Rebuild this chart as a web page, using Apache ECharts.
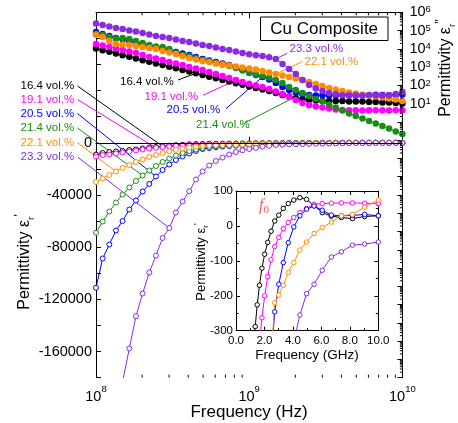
<!DOCTYPE html>
<html><head><meta charset="utf-8">
<script src="https://cdn.jsdelivr.net/npm/echarts@6/dist/echarts.min.js"></script>
<style>html,body{margin:0;padding:0;background:#fff;}#c{width:458px;height:423px;}</style>
</head><body><div id="c"></div>
<script>
// ---------------- DATA ----------------
const freqHz = [1.000e8, 1.105e8, 1.222e8, 1.350e8, 1.492e8, 1.650e8, 1.823e8, 2.015e8, 2.228e8, 2.462e8, 2.721e8, 3.008e8, 3.324e8, 3.674e8, 4.061e8, 4.489e8, 4.962e8, 5.484e8, 6.061e8, 6.699e8, 7.405e8, 8.184e8, 9.046e8,
  1.000e9, 1.105e9, 1.222e9, 1.350e9, 1.492e9, 1.650e9, 1.823e9, 2.015e9, 2.228e9, 2.462e9, 2.721e9, 3.008e9, 3.324e9, 3.674e9, 4.061e9, 4.489e9, 4.962e9, 5.484e9, 6.061e9, 6.699e9, 7.405e9, 8.184e9, 9.046e9, 1.000e10];
const volLabels = ['16.4 vol.%', '19.1 vol.%', '20.5 vol.%', '21.4 vol.%', '22.1 vol.%', '23.3 vol.%'];

// real permittivity (left axis, open circles)
const epsReal164 = [-8970, -7820, -7050, -6670, -6280, -5520, -5130, -4370, -3600, -3220, -2680, -2220, -1840, -1460, -1150, -950, -830, -740, -680, -630, -590, -550, -510, -470, -420, -360, -288, -226, -170, -121, -81, -47, -15, 14, 31, 50, 64, 74, 81, 76, 58, 38, 28, 24, 21, 27, 29];
const epsReal191 = [-10500, -9350, -8970, -8200, -7430, -6670, -5900, -5130, -4370, -3830, -3300, -2840, -2380, -1990, -1750, -1550, -1380, -1240, -1120, -1020, -930, -850, -780, -710, -640, -570, -500, -420, -335, -263, -200, -145, -97, -59, -33, -8, 10, 24, 38, 50, 62, 64, 65, 66, 66, 65, 64];
const epsReal205 = [-111100, -88660, -77930, -67200, -59920, -51110, -44220, -37320, -31570, -25820, -20840, -16630, -13180, -10500, -8200, -6280, -4750, -4000, -3400, -2900, -2500, -2200, -1950, -1750, -1550, -1380, -1220, -1080, -940, -800, -660, -530, -390, -246, -167, -105, -48, -3, 29, 48, 57, 45, 31, 29, 30, 33, 29];
const epsReal214 = [-68970, -60310, -52650, -45750, -39620, -34260, -29270, -25060, -21230, -17780, -14710, -12030, -9730, -7820, -6280, -5130, -3980, -3220, -2450, -1920, -1460, -1070, -770, -650, -550, -460, -380, -310, -250, -200, -150, -110, -75, -45, -20, 0, 15, 25, 30, 32, 33, 33, 33, 34, 33, 33, 34];
const epsReal221 = [-30040, -27360, -24670, -21990, -19310, -17010, -14710, -12800, -10880, -9350, -7820, -6510, -5360, -4370, -3600, -2990, -2450, -2100, -1850, -1700, -1600, -1520, -1450, -1380, -1300, -1220, -1130, -1030, -920, -800, -670, -530, -380, -220, -198, -170, -134, -105, -69, -46, -22, -5, 11, 29, 33, 54, 74];
const epsReal233 = [-335000, -290000, -250000, -215000, -183000, -157600, -132900, -115500, -99400, -86400, -72950, -65300, -53400, -45000, -37090, -28120, -22000, -17400, -13950, -11260, -8970, -7050, -5750, -4750, -3830, -2990, -2300, -1700, -1450, -1250, -1080, -930, -800, -690, -590, -500, -410, -330, -255, -194, -167, -127, -89, -74, -55, -52, -46];

// imaginary permittivity (right log axis, filled circles)
const epsImag164 = [1.04e4, 8.4e3, 6.9e3, 5.6e3, 4.5e3, 3.7e3, 3.0e3, 2.4e3, 1.98e3, 1.6e3, 1.31e3, 1.05e3, 860, 695, 570, 460, 375, 300, 247, 200, 163, 132, 108, 87, 72, 59, 49, 38, 30, 25, 20, 18, 16, 15, 14, 14, 14, 14, 13, 13, 13, 12.3, 12.3, 11.6, 11.6, 10.9, 10.2];
const epsImag191 = [1.84e4, 1.52e4, 1.26e4, 1.04e4, 8.6e3, 7.1e3, 5.9e3, 4.6e3, 3.6e3, 2.96e3, 2.45e3, 1.9e3, 1.58e3, 1.31e3, 1.01e3, 840, 695, 540, 420, 326, 254, 197, 153, 124, 98, 81, 63, 46, 34, 23, 16, 10.9, 8.4, 7.0, 6.2, 5.4, 4.8, 4.5, 4.3, 4.4, 4.2, 4.3, 4.4, 4.3, 4.2, 4.3, 4.4];
const epsImag205 = [8.4e4, 6.5e4, 5.0e4, 3.9e4, 3.2e4, 2.7e4, 2.1e4, 1.73e4, 1.43e4, 1.18e4, 9.8e3, 8.1e3, 6.7e3, 5.6e3, 4.6e3, 3.6e3, 2.8e3, 2.3e3, 1.9e3, 1.58e3, 1.31e3, 950, 695, 510, 370, 290, 210, 135, 81, 56, 41, 34, 30, 28, 29, 28, 29, 30, 29, 28, 29, 30, 31, 30, 29, 30, 32];
const epsImag214 = [6.7e4, 5.7e4, 4.4e4, 3.7e4, 3.9e4, 3.5e4, 2.7e4, 2.1e4, 1.62e4, 1.34e4, 1.26e4, 9.8e3, 5.9e3, 4.6e3, 4.1e3, 3.2e3, 2.45e3, 2.03e3, 1.68e3, 1.39e3, 1.15e3, 890, 650, 476, 394, 326, 270, 197, 135, 81, 56, 38, 26, 18, 13, 9.0, 6.2, 4.2, 2.9, 2.1, 1.54, 1.12, 0.82, 0.60, 0.44, 0.30, 0.22];
const epsImag221 = [5.9e4, 4.4e4, 2.7e4, 1.84e4, 1.73e4, 1.62e4, 1.43e4, 1.26e4, 1.11e4, 9.8e3, 7.6e3, 6.3e3, 5.2e3, 4.1e3, 3.2e3, 2.6e3, 2.16e3, 1.9e3, 1.58e3, 1.39e3, 1.22e3, 1.08e3, 950, 840, 740, 610, 510, 420, 350, 290, 240, 197, 153, 119, 92, 72, 59, 49, 41, 36, 32, 28, 25, 22, 19, 17, 14];
const epsImag233 = [2.4e5, 2.0e5, 1.66e5, 1.38e5, 1.23e5, 1.0e5, 8.9e4, 7.4e4, 6.0e4, 5.0e4, 4.5e4, 3.9e4, 3.2e4, 2.7e4, 2.35e4, 1.95e4, 1.6e4, 1.45e4, 1.2e4, 9.8e3, 8.7e3, 7.1e3, 5.9e3, 5.0e3, 4.4e3, 4.1e3, 3.5e3, 2.8e3, 1.5e3, 790, 415, 195, 105, 68, 49, 38, 34, 29, 29, 29, 28, 29, 29, 28, 29, 34, 44];

// zero-crossing frequencies marked in the inset (GHz) : 16.4, 19.1, 20.5, 22.1 vol.%
const f0GHz = [2.62, 3.5, 4.12, 6.2];
const f0Owner = [0, 1, 2, 4];
const insetOwners = [0, 1, 2, 4, 5];

// tick labels
const epsRealTickLabels = [0, -40000, -80000, -120000, -160000];
const epsImagTickExps = [1, 2, 3, 4, 5, 6];
const freqTickExps = [8, 9, 10];
const insetFreqTicks = [0, 2, 4, 6, 8, 10];
const insetEpsTicks = [100, 0, -100, -200, -300];

// ---------------- STYLE / LAYOUT ----------------
const colors = ['#000000', '#ff00ff', '#0000ff', '#1a8c1a', '#ff8c00', '#8a2be2'];
const FONT = '"Liberation Sans", Arial, Helvetica, sans-serif';
const realArrays = [epsReal164, epsReal191, epsReal205, epsReal214, epsReal221, epsReal233];
const imagArrays = [epsImag164, epsImag191, epsImag205, epsImag214, epsImag221, epsImag233];

const supRichX = {
  b: { fontSize: 14.5, lineHeight: 20, verticalAlign: 'bottom', fontFamily: FONT, color: '#000' },
  s: { fontSize: 9.5, lineHeight: 13, verticalAlign: 'top', fontFamily: FONT, color: '#000' }
};
const supRichY = {
  b: { fontSize: 14.5, lineHeight: 15, verticalAlign: 'bottom', fontFamily: FONT, color: '#000' },
  s: { fontSize: 9.5, lineHeight: 9, verticalAlign: 'top', fontFamily: FONT, color: '#000' }
};

const series = [];
imagArrays.forEach((arr, k) => {
  series.push({
    type: 'line', xAxisIndex: 0, yAxisIndex: 1, z: 2,
    data: freqHz.map((f, i) => [f, arr[i]]),
    symbol: 'circle', symbolSize: 6.5, showAllSymbol: true,
    itemStyle: { color: colors[k] }, lineStyle: { color: colors[k], width: 1 },
    emphasis: { disabled: true }, animation: false
  });
});
realArrays.forEach((arr, k) => {
  const s = {
    type: 'line', xAxisIndex: 0, yAxisIndex: 0, z: 2,
    data: freqHz.map((f, i) => [f, arr[i]]),
    symbol: 'circle', symbolSize: 5, showAllSymbol: true,
    itemStyle: { color: '#fff', borderColor: colors[k], borderWidth: 1 },
    lineStyle: { color: colors[k], width: 1 },
    emphasis: { disabled: true }, animation: false
  };
  if (k === 0) {
    s.markLine = { silent: true, symbol: 'none', animation: false, label: { show: false },
      lineStyle: { color: '#000', width: 1, type: 'solid' }, data: [{ yAxis: 0 }] };
  }
  series.push(s);
});
insetOwners.forEach((k, n) => {
  const s = {
    type: 'line', xAxisIndex: 2, yAxisIndex: 2, z: 12,
    data: freqHz.map((f, i) => [f / 1e9, realArrays[k][i]]),
    symbol: 'circle', symbolSize: 4.5, showAllSymbol: true,
    itemStyle: { color: '#fff', borderColor: colors[k], borderWidth: 1 },
    lineStyle: { color: colors[k], width: 1 },
    emphasis: { disabled: true }, animation: false
  };
  const fi = f0Owner.indexOf(k);
  const ml = [];
  if (fi >= 0) ml.push([{ coord: [f0GHz[fi], 46], lineStyle: { color: colors[k], width: 1, type: 'solid' } }, { coord: [f0GHz[fi], 1] }]);
  if (n === 0) ml.push([{ coord: [0, 0], symbol: 'none', lineStyle: { color: '#000', width: 1, type: 'solid' } }, { coord: [10, 0], symbol: 'none' }]);
  s.markLine = { silent: true, animation: false, symbol: ['none', 'arrow'], symbolSize: [5, 7], label: { show: false }, data: ml };
  series.push(s);
});

const option = {
  animation: false,
  backgroundColor: '#fff',
  textStyle: { fontFamily: FONT },
  grid: [
    { left: 96, top: 12.3, width: 306.4, height: 365.4, show: false },
    { left: 236, top: 191, width: 142.3, height: 139.7, show: true, backgroundColor: '#fff', borderWidth: 0, z: 10 }
  ],
  xAxis: [
    { type: 'log', logBase: 10, gridIndex: 0, position: 'bottom', min: 1e8, max: 1e10,
      axisLine: { show: true, lineStyle: { color: '#000', width: 1 } },
      axisTick: { show: true, inside: true, length: 6, lineStyle: { color: '#000' } },
      splitLine: { show: false },
      axisLabel: { margin: 7, rich: supRichX, showMinLabel: true, showMaxLabel: true, hideOverlap: false,
        formatter: v => { const e = Math.round(Math.log10(v)); return freqTickExps.includes(e) ? '{b|10}{s|' + e + '}' : ''; } } },
    { type: 'log', logBase: 10, gridIndex: 0, position: 'top', min: 1e8, max: 1e10,
      axisLine: { show: true, lineStyle: { color: '#000', width: 1 } },
      axisTick: { show: true, inside: true, length: 6, lineStyle: { color: '#000' } },
      splitLine: { show: false }, axisLabel: { show: false } },
    { type: 'value', gridIndex: 1, position: 'bottom', min: 0, max: 10, interval: 2, z: 11,
      axisLine: { show: true, onZero: false, lineStyle: { color: '#000', width: 1 } },
      axisTick: { show: true, inside: true, length: 4, lineStyle: { color: '#000' } },
      minorTick: { show: true, splitNumber: 2, length: 2.5, lineStyle: { color: '#000' } },
      splitLine: { show: false },
      axisLabel: { fontSize: 11.5, color: '#000', margin: 4, showMinLabel: true, showMaxLabel: true, hideOverlap: false,
        formatter: v => insetFreqTicks.includes(v) ? v.toFixed(1) : '' } },
    { type: 'value', gridIndex: 1, position: 'top', min: 0, max: 10, interval: 2, z: 11,
      axisLine: { show: true, onZero: false, lineStyle: { color: '#000', width: 1 } },
      axisTick: { show: true, inside: true, length: 4, lineStyle: { color: '#000' } },
      minorTick: { show: true, splitNumber: 2, length: 2.5, lineStyle: { color: '#000' } },
      splitLine: { show: false }, axisLabel: { show: false } }
  ],
  yAxis: [
    { type: 'value', gridIndex: 0, position: 'left', min: -180000, max: 100000, interval: 20000,
      axisLine: { show: true, onZero: false, lineStyle: { color: '#000', width: 1 } },
      axisTick: { show: true, inside: true, length: 5, lineStyle: { color: '#000' } },
      splitLine: { show: false },
      axisLabel: { fontSize: 14.5, color: '#000', margin: 4, hideOverlap: false,
        formatter: v => epsRealTickLabels.includes(v) ? String(v) : '' } },
    { type: 'log', logBase: 10, gridIndex: 0, position: 'right', min: 1e-14, max: 1e6, interval: 1,
      axisLine: { show: true, lineStyle: { color: '#000', width: 1 } },
      axisTick: { show: true, inside: true, length: 5, lineStyle: { color: '#000' } },
      splitLine: { show: false },
      axisLabel: { margin: 7, rich: supRichY, showMinLabel: true, showMaxLabel: true, hideOverlap: false,
        formatter: v => { const e = Math.round(Math.log10(v)); return epsImagTickExps.includes(e) ? '{b|10}{s|' + e + '}' : ''; } } },
    { type: 'value', gridIndex: 1, position: 'left', min: -300, max: 100, interval: 100, z: 11,
      axisLine: { show: true, onZero: false, lineStyle: { color: '#000', width: 1 } },
      axisTick: { show: true, inside: true, length: 4, lineStyle: { color: '#000' } },
      minorTick: { show: true, splitNumber: 2, length: 2.5, lineStyle: { color: '#000' } },
      splitLine: { show: false },
      axisLabel: { fontSize: 11.5, color: '#000', margin: 3, showMinLabel: true, showMaxLabel: true, hideOverlap: false,
        formatter: v => insetEpsTicks.includes(v) ? String(v) : '' } },
    { type: 'value', gridIndex: 1, position: 'right', min: -300, max: 100, interval: 100, z: 11,
      axisLine: { show: true, onZero: false, lineStyle: { color: '#000', width: 1 } },
      axisTick: { show: true, inside: true, length: 4, lineStyle: { color: '#000' } },
      minorTick: { show: true, splitNumber: 2, length: 2.5, lineStyle: { color: '#000' } },
      splitLine: { show: false }, axisLabel: { show: false } }
  ],
  series: series
};

const chart = echarts.init(document.getElementById('c'), null, { renderer: 'canvas' });
chart.setOption(option);

// ---------------- ANNOTATIONS ----------------
const layout = {
  leftLabelX: 20.5,
  leftLabelY: [86, 99.5, 113.5, 128, 142.7, 157],
  leftLineX: 77.5,
  leftTargets: [10, 9, 9, 7, 3, 11],
  topLabelPos: [[120, 81.5], [144.5, 97], [166.5, 110.3], [196, 124.7], [304.5, 61.8], [289.5, 48.5]],
  topLineStart: [[178, 80], [203, 95.3], [226, 108.7], [244, 123.3], [302.3, 61.7], [287.3, 53.3]],
  topTargets: [15, 21, 25, 31, 27, 27]
};
const g = [];
const txt = (x, y, text, color, size, align, extra) => ({
  type: 'text', x: x, y: y, z: 5,
  style: Object.assign({ text: text, fill: color, font: size + 'px ' + FONT, fontSize: size, fontFamily: FONT,
    textAlign: align || 'left', align: align || 'left', textVerticalAlign: 'middle', verticalAlign: 'middle' }, (extra || {}))
});
const line = (x1, y1, x2, y2, color, z) => ({ type: 'line', z: z || 1, silent: true,
  shape: { x1: x1, y1: y1, x2: x2, y2: y2 }, style: { stroke: color, lineWidth: 1 } });

for (let k = 0; k < 6; k++) {
  g.push(txt(layout.leftLabelX, layout.leftLabelY[k], volLabels[k], colors[k], 11.5));
  const pr = chart.convertToPixel({ seriesIndex: 6 + k }, [freqHz[layout.leftTargets[k]], realArrays[k][layout.leftTargets[k]]]);
  g.push(line(layout.leftLineX, layout.leftLabelY[k], pr[0], pr[1], colors[k], 1));
  g.push(txt(layout.topLabelPos[k][0], layout.topLabelPos[k][1], volLabels[k], colors[k], 11.5));
  const pi = chart.convertToPixel({ seriesIndex: k }, [freqHz[layout.topTargets[k]], imagArrays[k][layout.topTargets[k]]]);
  g.push(line(layout.topLineStart[k][0], layout.topLineStart[k][1], pi[0], pi[1], colors[k], 1));
}

// minor log ticks on x (bottom/top) and right axis
const gridTop = 12.3, gridBottom = 377.7, gridRight = 402.4;
for (let d = 8; d < 10; d++) for (let m = 2; m <= 9; m++) {
  const x = chart.convertToPixel({ xAxisIndex: 0 }, m * Math.pow(10, d));
  g.push(line(x, gridBottom, x, gridBottom - 3, '#000', 3));
  g.push(line(x, gridTop, x, gridTop + 3, '#000', 3));
}
for (let d = -14; d < 6; d++) for (let m = 2; m <= 9; m++) {
  const y = chart.convertToPixel({ yAxisIndex: 1 }, m * Math.pow(10, d));
  g.push(line(gridRight, y, gridRight - 2.5, y, '#000', 3));
}

// legend box
g.push({ type: 'rect', z: 4, shape: { x: 260.5, y: 17, width: 127.5, height: 23.5 }, style: { fill: '#fff', stroke: '#000', lineWidth: 1 } });
g.push(txt(324.2, 29.2, 'Cu Composite', '#000', 17, 'center'));

// axis titles
g.push(txt(249, 412.5, 'Frequency (Hz)', '#000', 17, 'center'));
const nameRich = (fs) => ({
  r: { fontSize: fs * 0.62, lineHeight: fs * 0.62, verticalAlign: 'bottom', fontFamily: FONT, fill: '#000', color: '#000' },
  p: { fontSize: fs * 0.75, lineHeight: fs * 0.75, verticalAlign: 'top', fontFamily: FONT, fill: '#000', color: '#000' }
});
g.push(Object.assign(txt(25, 262, "Permittivity ε{r|r}{p|'}", '#000', 16, 'center', { rich: nameRich(16), lineHeight: 22 }), { rotation: Math.PI / 2 }));
g.push(Object.assign(txt(446, 68, "Permittivity ε{r|r}{p|''}", '#000', 16, 'center', { rich: nameRich(16), lineHeight: 22 }), { rotation: Math.PI / 2 }));
g.push(Object.assign(txt(201, 262, "Permittivity ε{r|r}{p|'}", '#000', 13, 'center', { rich: nameRich(13), lineHeight: 18 }), { rotation: Math.PI / 2, z: 20 }));
g.push(Object.assign(txt(307, 355, 'Frequency (GHz)', '#000', 13.5, 'center'), { z: 20 }));
// f0 label
g.push({ type: 'text', x: 259, y: 198, z: 20, style: {
  text: '{f|f}{o|0}', fill: '#ff5a5a',
  rich: { f: { fontSize: 16, fontStyle: 'italic', fontFamily: '"Liberation Serif", "Times New Roman", serif', lineHeight: 18, verticalAlign: 'top', fill: '#ff5a5a', color: '#ff5a5a' },
          o: { fontSize: 11, fontFamily: '"Liberation Serif", "Times New Roman", serif', lineHeight: 11, verticalAlign: 'bottom', fill: '#ff5a5a', color: '#ff5a5a' } },
  textVerticalAlign: 'top', verticalAlign: 'top' } });

chart.setOption({ graphic: { elements: g } });
</script>
</body></html>
